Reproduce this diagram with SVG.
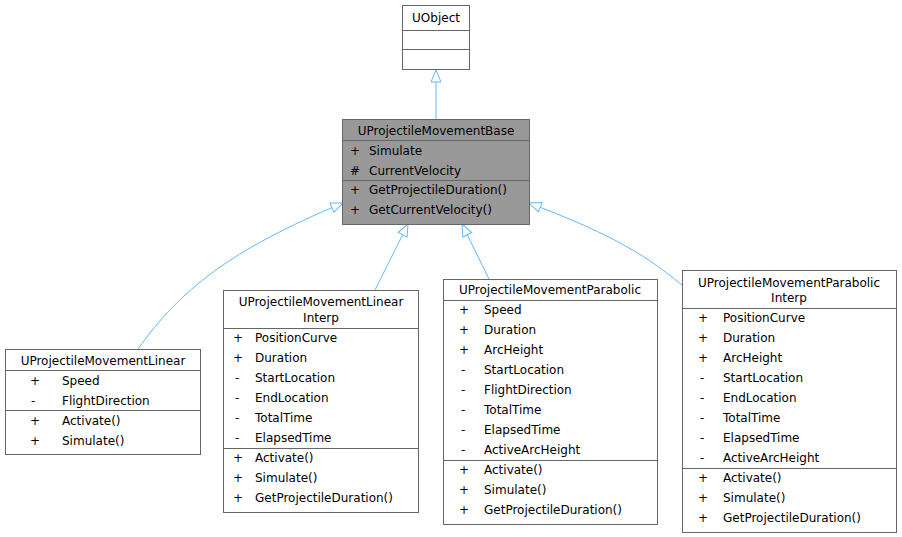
<svg xmlns="http://www.w3.org/2000/svg" width="902" height="537" viewBox="0 0 902 537">
<style>
text{font-family:"DejaVu Sans",sans-serif;font-size:12px;fill:#000}
.c{text-anchor:middle}
.b{fill:#fff;stroke:#666;stroke-width:1}
.g{fill:#999;stroke:#666;stroke-width:1}
.s{stroke:#666;stroke-width:1}
.e{fill:none;stroke:#63b8ff;stroke-width:1}
</style>
<defs><marker id="a" markerWidth="14" markerHeight="12" refX="13" refY="6" orient="auto" markerUnits="userSpaceOnUse"><path d="M1,1 L13,6 L1,11 Z" fill="#fff" stroke="#63b8ff"/></marker></defs>
<rect width="902" height="537" fill="#fff"/>
<g id="edges">
<path class="e" d="M436,119 L436,70" marker-end="url(#a)"/>
<path class="e" d="M138,349 C180,290 230,250 343,203" marker-end="url(#a)"/>
<path class="e" d="M375,290 L408,224" marker-end="url(#a)"/>
<path class="e" d="M489,279 L462,224" marker-end="url(#a)"/>
<path class="e" d="M682,285 C640,250 600,230 529,203" marker-end="url(#a)"/>
</g>
<g id="UObject">
<rect class="b" x="402.5" y="5.5" width="67" height="64"/>
<text class="c" x="436" y="22">UObject</text>
<line class="s" x1="402.5" y1="30.5" x2="469.5" y2="30.5"/>
<line class="s" x1="402.5" y1="49.5" x2="469.5" y2="49.5"/>
</g>
<g id="Base">
<rect class="g" x="342.5" y="119.5" width="187" height="105"/>
<text class="c" x="436" y="135">UProjectileMovementBase</text>
<line class="s" x1="342.5" y1="140.5" x2="529.5" y2="140.5"/>
<text x="350" y="155">+</text><text x="369" y="155">Simulate</text>
<text x="350" y="175">#</text><text x="369" y="175">CurrentVelocity</text>
<line class="s" x1="342.5" y1="180.5" x2="529.5" y2="180.5"/>
<text x="350" y="194">+</text><text x="369" y="194">GetProjectileDuration()</text>
<text x="350" y="214">+</text><text x="369" y="214">GetCurrentVelocity()</text>
</g>
<g id="Linear">
<rect class="b" x="5.5" y="349.5" width="195" height="105"/>
<text class="c" x="103" y="365">UProjectileMovementLinear</text>
<line class="s" x1="5.5" y1="370.5" x2="200.5" y2="370.5"/>
<text x="30" y="385">+</text><text x="62" y="385">Speed</text>
<text x="31" y="405">-</text><text x="62" y="405">FlightDirection</text>
<line class="s" x1="5.5" y1="410.5" x2="200.5" y2="410.5"/>
<text x="30" y="425">+</text><text x="62" y="425">Activate()</text>
<text x="30" y="445">+</text><text x="62" y="445">Simulate()</text>
</g>
<g id="LinearInterp">
<rect class="b" x="223.5" y="290.5" width="195" height="222"/>
<text class="c" x="321" y="306">UProjectileMovementLinear</text>
<text class="c" x="321" y="322">Interp</text>
<line class="s" x1="223.5" y1="328.5" x2="418.5" y2="328.5"/>
<text x="233" y="342">+</text><text x="255" y="342">PositionCurve</text>
<text x="233" y="362">+</text><text x="255" y="362">Duration</text>
<text x="235" y="382">-</text><text x="255" y="382">StartLocation</text>
<text x="235" y="402">-</text><text x="255" y="402">EndLocation</text>
<text x="235" y="422">-</text><text x="255" y="422">TotalTime</text>
<text x="235" y="442">-</text><text x="255" y="442">ElapsedTime</text>
<line class="s" x1="223.5" y1="448.5" x2="418.5" y2="448.5"/>
<text x="233" y="462">+</text><text x="255" y="462">Activate()</text>
<text x="233" y="482">+</text><text x="255" y="482">Simulate()</text>
<text x="233" y="502">+</text><text x="255" y="502">GetProjectileDuration()</text>
</g>
<g id="Parabolic">
<rect class="b" x="443.5" y="279.5" width="214" height="245"/>
<text class="c" x="550" y="294">UProjectileMovementParabolic</text>
<line class="s" x1="443.5" y1="300.5" x2="657.5" y2="300.5"/>
<text x="459" y="314">+</text><text x="484" y="314">Speed</text>
<text x="459" y="334">+</text><text x="484" y="334">Duration</text>
<text x="459" y="354">+</text><text x="484" y="354">ArcHeight</text>
<text x="461" y="374">-</text><text x="484" y="374">StartLocation</text>
<text x="461" y="394">-</text><text x="484" y="394">FlightDirection</text>
<text x="461" y="414">-</text><text x="484" y="414">TotalTime</text>
<text x="461" y="434">-</text><text x="484" y="434">ElapsedTime</text>
<text x="461" y="454">-</text><text x="484" y="454">ActiveArcHeight</text>
<line class="s" x1="443.5" y1="460.5" x2="657.5" y2="460.5"/>
<text x="459" y="474">+</text><text x="484" y="474">Activate()</text>
<text x="459" y="494">+</text><text x="484" y="494">Simulate()</text>
<text x="459" y="514">+</text><text x="484" y="514">GetProjectileDuration()</text>
</g>
<g id="ParabolicInterp">
<rect class="b" x="682.5" y="270.5" width="214" height="262"/>
<text class="c" x="789" y="287">UProjectileMovementParabolic</text>
<text class="c" x="789" y="302">Interp</text>
<line class="s" x1="682.5" y1="308.5" x2="896.5" y2="308.5"/>
<text x="698" y="322">+</text><text x="723" y="322">PositionCurve</text>
<text x="698" y="342">+</text><text x="723" y="342">Duration</text>
<text x="698" y="362">+</text><text x="723" y="362">ArcHeight</text>
<text x="700" y="382">-</text><text x="723" y="382">StartLocation</text>
<text x="700" y="402">-</text><text x="723" y="402">EndLocation</text>
<text x="700" y="422">-</text><text x="723" y="422">TotalTime</text>
<text x="700" y="442">-</text><text x="723" y="442">ElapsedTime</text>
<text x="700" y="462">-</text><text x="723" y="462">ActiveArcHeight</text>
<line class="s" x1="682.5" y1="468.5" x2="896.5" y2="468.5"/>
<text x="698" y="482">+</text><text x="723" y="482">Activate()</text>
<text x="698" y="502">+</text><text x="723" y="502">Simulate()</text>
<text x="698" y="522">+</text><text x="723" y="522">GetProjectileDuration()</text>
</g>
</svg>
